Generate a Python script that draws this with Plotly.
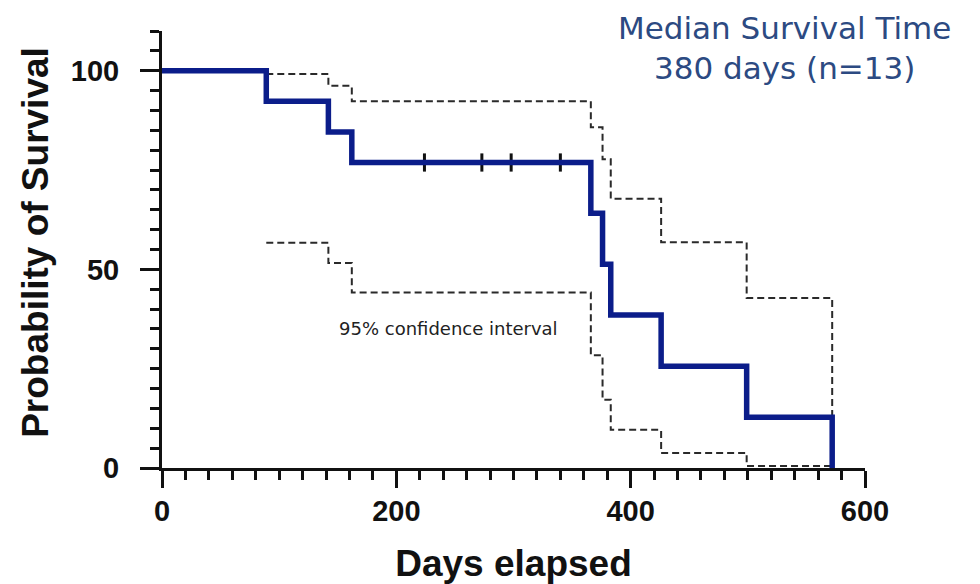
import plotly.graph_objects as go

# Kaplan-Meier estimate (event days and survival %)
km_days = [0, 89, 142, 162, 366, 376, 383, 426, 499, 572]
km_surv = [100, 92.3, 84.6, 76.9, 64.1, 51.3, 38.5, 25.6, 12.8, 0]

# censored observations
cens_days = [224, 273, 298, 340]
cens_surv = [76.9, 76.9, 76.9, 76.9]

# 95% confidence interval bounds
ci_days = [89, 142, 162, 366, 376, 383, 426, 499, 572]
ci_upper = [99.2, 96.2, 92.3, 85.8, 77.7, 67.8, 56.8, 42.8, 0]
ci_lower = [56.7, 51.6, 44.2, 28.4, 17.2, 9.6, 3.8, 0.5, 0.5]

x_ticks = [0, 200, 400, 600]
y_ticks = [0, 50, 100]

navy = "#0b1d8a"
dash_col = "#2a2a2a"

fig = go.Figure()
fig.add_trace(go.Scatter(x=ci_days, y=ci_upper, mode="lines", line_shape="hv",
                         line=dict(color=dash_col, width=2, dash="7px,4px"), showlegend=False))
fig.add_trace(go.Scatter(x=ci_days, y=ci_lower, mode="lines", line_shape="hv",
                         line=dict(color=dash_col, width=2, dash="7px,4px"), showlegend=False))
fig.add_trace(go.Scatter(x=cens_days, y=cens_surv, mode="markers",
                         marker=dict(symbol="line-ns", size=13, line=dict(color="#111", width=3)),
                         showlegend=False))
fig.add_trace(go.Scatter(x=km_days, y=km_surv, mode="lines", line_shape="hv",
                         line=dict(color=navy, width=5.5), showlegend=False))

axis_font = dict(family="Liberation Sans, Arial, sans-serif", size=29, color="#111")
title_font = dict(family="Liberation Sans, Arial, sans-serif", size=37, color="#111")

fig.update_layout(
    width=980, height=584,
    margin=dict(l=162, r=115, t=31, b=116, autoexpand=False),
    plot_bgcolor="white", paper_bgcolor="white",
    xaxis=dict(range=[0, 600], tickvals=x_ticks, ticktext=[f"<b>{v}</b>" for v in x_ticks],
               showgrid=False, zeroline=False, showline=True, linecolor="#111", linewidth=3,
               ticks="outside", ticklen=17, tickwidth=3, tickcolor="#111",
               minor=dict(dtick=20, ticks="outside", ticklen=9, tickwidth=3, tickcolor="#111"),
               tickfont=axis_font, automargin=False, ticklabelstandoff=-2,
               title=dict(text="<b>Days elapsed</b>", font=title_font, standoff=25)),
    yaxis=dict(range=[0, 110], tickvals=y_ticks, ticktext=[f"<b>{v}</b>" for v in y_ticks],
               showgrid=False, zeroline=False, showline=True, linecolor="#111", linewidth=3,
               ticks="outside", ticklen=19, tickwidth=3, tickcolor="#111",
               minor=dict(dtick=5, ticks="outside", ticklen=9, tickwidth=3, tickcolor="#111"),
               tickfont=axis_font, automargin=False, ticklabelstandoff=15),
    annotations=[
        dict(text="<b>Probability of Survival</b>", xref="paper", yref="paper",
             x=-0.181, y=0.517, xanchor="center", yanchor="middle", showarrow=False,
             textangle=-90, font=title_font),
        dict(text="Median Survival Time<br>380 days (n=13)", xref="paper", yref="paper",
             x=0.886, y=1.052, xanchor="center", yanchor="top", showarrow=False, align="center",
             font=dict(family="DejaVu Sans, sans-serif", size=31, color="#2c4a82")),
        dict(text="95% confidence interval", xref="paper", yref="paper",
             x=0.407, y=0.32, xanchor="center", yanchor="middle", showarrow=False,
             font=dict(family="DejaVu Sans, sans-serif", size=18, color="#222")),
    ],
)

fig.write_html("out.html", config={"displayModeBar": False},
               post_script="document.body.style.margin='0';")
